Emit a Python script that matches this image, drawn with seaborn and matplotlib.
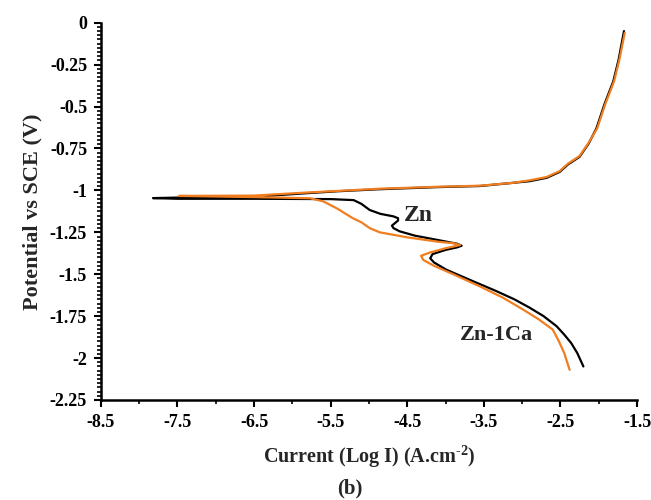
import pandas as pd
import matplotlib.pyplot as plt
import seaborn as sns
from matplotlib.ticker import MultipleLocator

# Zn: cathodic branch (bottom -> Ecorr) then anodic branch (Ecorr -> top)
zn_logi = [-2.20, -2.28, -2.36, -2.45, -2.55, -2.72, -2.90, -3.10, -3.34, -3.65,
           -3.99, -4.15, -4.20, -4.17, -4.00, -3.85, -3.79, -3.85, -4.10, -4.40,
           -4.60, -4.68, -4.70, -4.62, -4.62, -4.68, -4.85, -4.99, -5.10, -5.20,
           -5.50, -6.50, -7.50, -7.82,
           -7.40, -6.50, -5.82, -5.40, -4.86, -4.07, -3.55, -3.12, -2.90, -2.68,
           -2.51, -2.40, -2.25, -2.13, -2.03, -1.92, -1.81, -1.74, -1.67]
zn_pot = [-2.05, -1.97, -1.91, -1.86, -1.81, -1.75, -1.70, -1.65, -1.60, -1.54,
          -1.473, -1.43, -1.405, -1.38, -1.355, -1.34, -1.33, -1.318, -1.296, -1.27,
          -1.244, -1.225, -1.21, -1.18, -1.166, -1.155, -1.14, -1.117, -1.08, -1.058,
          -1.052, -1.05, -1.05, -1.046,
          -1.042, -1.038, -1.017, -1.005, -0.993, -0.98, -0.974, -0.955, -0.945, -0.925,
          -0.89, -0.845, -0.80, -0.72, -0.63, -0.48, -0.35, -0.22, -0.05]

# Zn-1Ca
znca_logi = [-2.38, -2.45, -2.52, -2.60, -2.78, -2.99, -3.25, -3.55, -3.90, -4.15,
             -4.29, -4.32, -4.20, -4.00, -3.81, -3.90, -4.10, -4.50, -4.86, -4.99,
             -5.10, -5.21, -5.42, -5.60, -5.77, -6.50, -7.48,
             -6.50, -5.90, -5.40, -4.86, -4.07, -3.55, -3.12, -2.90, -2.68,
             -2.51, -2.40, -2.25, -2.13, -2.02, -1.91, -1.80, -1.73, -1.66]
znca_pot = [-2.07, -1.97, -1.90, -1.83, -1.77, -1.71, -1.64, -1.573, -1.50, -1.45,
            -1.415, -1.39, -1.37, -1.345, -1.326, -1.315, -1.306, -1.28, -1.25, -1.225,
            -1.19, -1.166, -1.107, -1.065, -1.047, -1.04, -1.033,
            -1.031, -1.015, -1.003, -0.99, -0.978, -0.972, -0.955, -0.94, -0.92,
            -0.885, -0.84, -0.795, -0.715, -0.63, -0.48, -0.35, -0.22, -0.06]

x_ticks = [-8.5, -7.5, -6.5, -5.5, -4.5, -3.5, -2.5, -1.5]
y_ticks = [0, -0.25, -0.5, -0.75, -1, -1.25, -1.5, -1.75, -2, -2.25]
y_tick_labels = ["0", "-0.25", "-0.5", "-0.75", "-1", "-1.25", "-1.5", "-1.75", "-2", "-2.25"]

sns.set_theme(style="ticks")
plt.rcParams["font.family"] = ["Liberation Serif", "DejaVu Serif"]
plt.rcParams["font.weight"] = "bold"
plt.rcParams["mathtext.fontset"] = "custom"
plt.rcParams["mathtext.rm"] = "Liberation Serif:bold"
plt.rcParams["mathtext.it"] = "Liberation Serif:bold"
plt.rcParams["mathtext.bf"] = "Liberation Serif:bold"

fig = plt.figure(figsize=(6.51, 5.0), dpi=100)
ax = fig.add_axes([0.155, 0.2, 0.8235, 0.7546])

sns.lineplot(x=zn_logi, y=zn_pot, sort=False, estimator=None, color="black",
             linewidth=1.6, ax=ax)
sns.lineplot(x=znca_logi, y=znca_pot, sort=False, estimator=None, color="#F07D1F",
             linewidth=1.6, ax=ax)

ax.set_xlim(-8.5, -1.5)
ax.set_ylim(-2.25, 0)
ax.set_xticks(x_ticks)
ax.set_xticklabels([f"{v:g}" for v in x_ticks])
ax.set_yticks(y_ticks)
ax.set_yticklabels(y_tick_labels)
ax.xaxis.set_minor_locator(MultipleLocator(0.5))
ax.yaxis.set_minor_locator(MultipleLocator(0.025))
ax.tick_params(axis="both", which="major", labelsize=13, length=5, width=1.5,
               color="black", labelcolor="black", pad=5)
ax.tick_params(axis="both", which="minor", length=3, width=1.2, color="black")
for lbl in ax.get_xticklabels() + ax.get_yticklabels():
    lbl.set_fontweight("bold")

sns.despine(ax=ax)
for side in ["left", "bottom"]:
    ax.spines[side].set_linewidth(1.8)
    ax.spines[side].set_color("black")

ax.set_ylabel("Potential vs SCE (V)", fontsize=16, fontweight="bold", labelpad=5)
ax.set_xlabel(r"Current (Log I) (A.cm$^{\text{-2}}$)", fontsize=14.5, fontweight="bold",
              labelpad=9)

ax.text(-4.36, -1.15, "Zn", fontsize=17, fontweight="bold", ha="center", va="center")
ax.text(-3.34, -1.86, "Zn-1Ca", fontsize=16, fontweight="bold", ha="center", va="center")

fig.text(0.537, 0.024, "(b)", fontsize=15, fontweight="bold", ha="center", va="center")

fig.savefig("out.png", dpi=100)
